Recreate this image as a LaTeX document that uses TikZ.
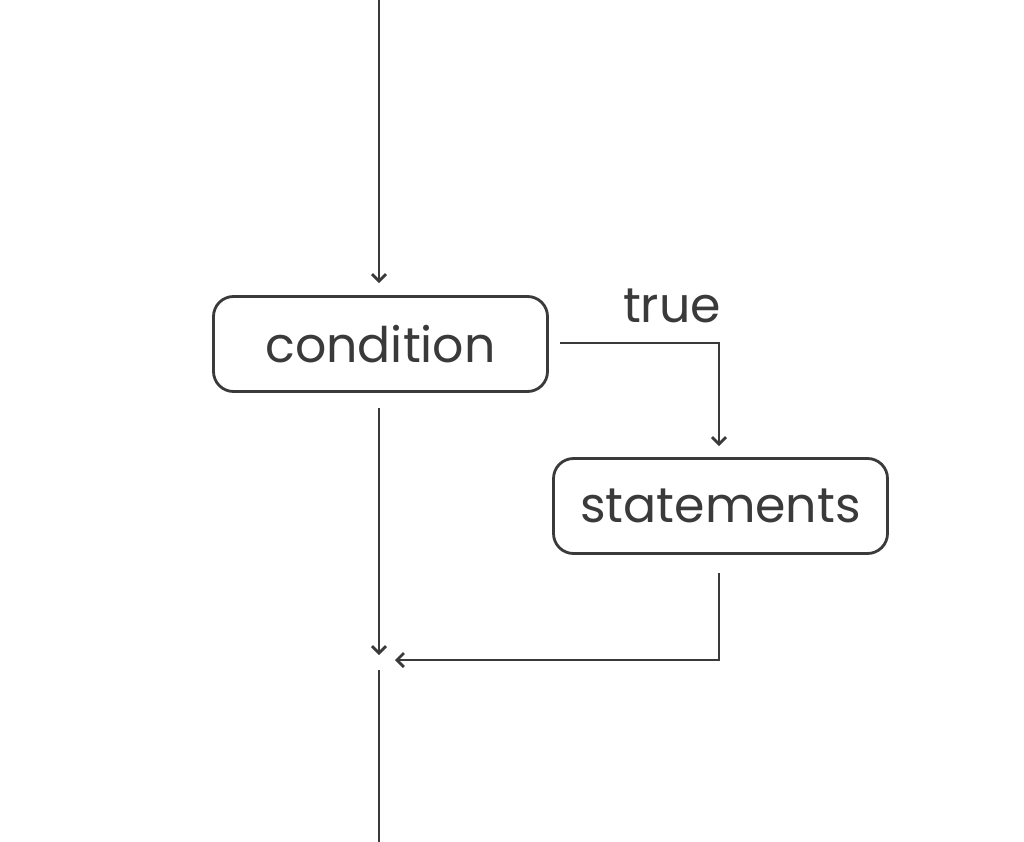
\documentclass[tikz,border=0pt]{standalone}
\usepackage{fontspec}
\setmainfont{Poppins}
\usetikzlibrary{arrows.meta}
\definecolor{ink}{HTML}{3A3A3A}
\begin{document}
\begin{tikzpicture}[x=1pt,y=-1pt,
  flowbox/.style={draw=ink,line width=2.8pt,rounded corners=20pt,minimum width=334pt,minimum height=95pt,inner sep=0pt,text=ink,font=\fontsize{49}{53}\selectfont},
  conn/.style={draw=ink,line width=2.8pt,-{Straight Barb[length=7pt,width=14pt,line width=2.8pt]}},
  plain/.style={draw=ink,line width=2.8pt}]
\useasboundingbox (0,0) rectangle (1024,842);
\fill[white] (0,0) rectangle (1024,842);
\node[flowbox] (cond) at (380.5,344) {condition};
\node[flowbox] (stmt) at (720.5,506) {statements};
\node[text=ink,font=\fontsize{49}{53}\selectfont,inner sep=0pt] (lbl) at (672,306) {true};
\coordinate (top) at (379,0);
\coordinate (join) at (379,660);
\coordinate (bend1) at (719,343);
\coordinate (bend2) at (719,660);
\coordinate (bottom) at (379,842);
\draw[conn,shorten >=12pt] (top) -- (cond.north -| top);
\draw[conn,shorten <=11pt] (cond.east |- bend1) -- (bend1) -- ([yshift=11pt]stmt.north -| bend1);
\draw[conn,shorten <=15pt,shorten >=5pt] (cond.south -| join) -- (join);
\draw[conn,shorten <=18pt,shorten >=16pt] (stmt.south -| bend2) -- (bend2) -- (join);
\draw[plain,shorten <=10pt] (join) -- (bottom);
\end{tikzpicture}
\end{document}
